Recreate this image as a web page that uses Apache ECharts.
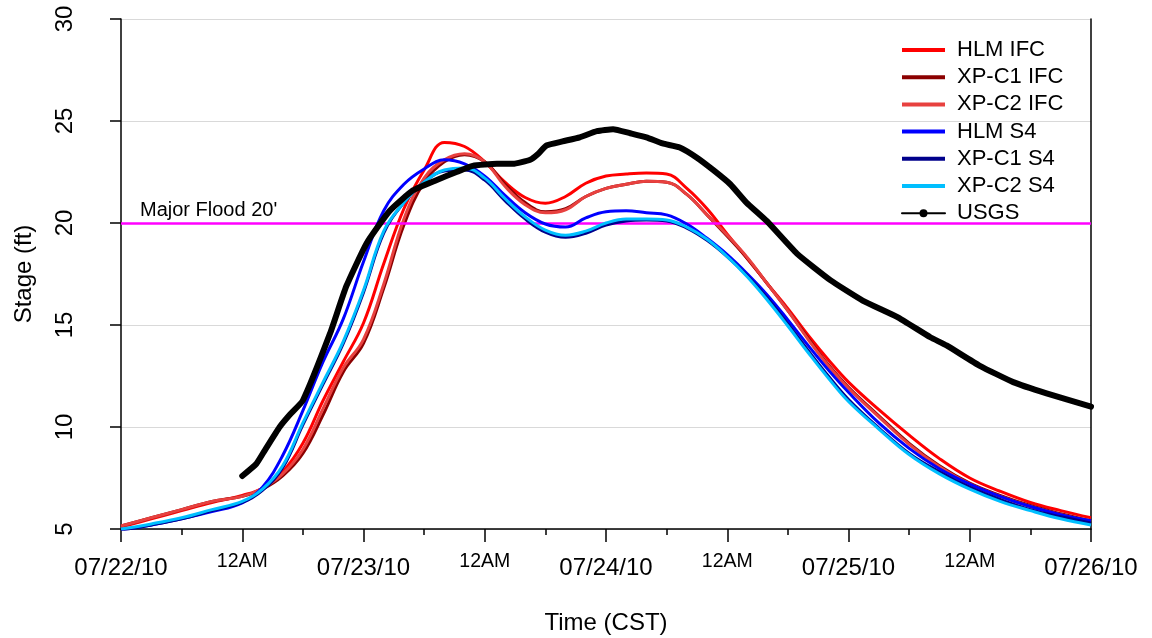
<!DOCTYPE html>
<html><head><meta charset="utf-8">
<script src="https://cdn.jsdelivr.net/npm/echarts@6/dist/echarts.min.js"></script>
<style>html,body{margin:0;padding:0;background:#fff}#c{width:1152px;height:638px}</style>
</head><body><div id="c"></div>
<script>
// ---- data (hours after 07/22/10 00:00 CST, stage in ft) ----
const X_TICK_LABELS = ['07/22/10','12AM','07/23/10','12AM','07/24/10','12AM','07/25/10','12AM','07/26/10'];
const SERIES_NAMES = ['HLM IFC','XP-C1 IFC','XP-C2 IFC','HLM S4','XP-C1 S4','XP-C2 S4','USGS'];
const MODEL_HOURS = [0,3,6,9,12,14,16,18,20,22,24,26,28,30,32,34,36,38,40,42,44,46,48,50,52,54,56,58,60,62,64,66,68,70,72,75,78,81,84,87,90,93,96];
const HLM_IFC   = [5.1,5.5,5.9,6.3,6.65,7.0,7.8,9.2,11.3,13.2,15.1,18.0,20.7,22.6,23.95,23.75,23.0,22.0,21.25,20.97,21.3,21.95,22.3,22.4,22.45,22.4,21.7,20.7,19.45,18.25,17.0,15.8,14.5,13.3,12.2,10.85,9.6,8.45,7.5,6.85,6.3,5.9,5.55];
const XPC1_IFC  = [5.15,5.55,5.95,6.35,6.6,6.95,7.6,8.7,10.6,12.7,14.1,16.8,19.9,22.0,23.0,23.35,23.0,21.9,21.0,20.55,20.7,21.3,21.7,21.9,22.05,22.0,21.4,20.4,19.35,18.25,17.0,15.7,14.35,13.05,11.95,10.55,9.2,8.1,7.25,6.65,6.15,5.75,5.4];
const XPC2_IFC  = [5.15,5.55,5.95,6.35,6.6,7.0,7.7,8.9,10.9,12.9,14.3,17.0,20.2,22.2,23.1,23.4,23.0,21.8,20.9,20.5,20.65,21.3,21.7,21.9,22.05,22.0,21.4,20.4,19.4,18.3,17.0,15.7,14.3,13.0,11.9,10.5,9.15,8.05,7.2,6.6,6.1,5.7,5.35];
const HLM_S4    = [4.95,5.2,5.5,5.85,6.28,7.05,8.6,10.8,13.2,15.3,18.1,20.6,21.9,22.65,23.1,22.9,22.3,21.35,20.5,19.95,19.8,20.25,20.55,20.6,20.5,20.4,19.95,19.25,18.45,17.5,16.45,15.25,14.0,12.8,11.7,10.2,8.95,7.95,7.2,6.6,6.1,5.7,5.4];
const XPC1_S4   = [4.95,5.2,5.5,5.9,6.3,6.9,8.0,10.1,12.1,14.1,16.6,19.5,21.0,22.0,22.55,22.6,22.1,21.1,20.2,19.55,19.3,19.5,19.9,20.1,20.15,20.1,19.75,19.15,18.35,17.4,16.3,15.05,13.75,12.5,11.35,9.95,8.7,7.8,7.05,6.45,5.95,5.6,5.3];
const XPC2_S4   = [5.0,5.25,5.55,5.95,6.35,6.95,8.1,10.2,12.2,14.2,16.7,19.6,21.0,22.0,22.6,22.7,22.2,21.2,20.3,19.65,19.4,19.6,20.0,20.2,20.2,20.15,19.8,19.2,18.35,17.35,16.2,14.95,13.65,12.4,11.25,9.9,8.65,7.7,6.95,6.35,5.9,5.5,5.2];
const USGS_HOURS = [12,13.4,14.25,15.7,16.7,18.0,20.7,22.3,24.3,26.6,28.9,31.2,33.2,34.8,37.2,38.8,40.5,41.3,42.1,43.7,45.4,47.1,48.7,50.4,52.0,53.6,55.3,57.0,58.6,60.3,61.9,63.9,66.9,70.2,73.4,76.8,80.1,81.7,85.0,88.3,91.6,96];
const USGS_STAGE = [7.6,8.2,8.87,10.0,10.6,11.3,14.6,16.9,19.0,20.6,21.6,22.1,22.5,22.8,22.9,22.9,23.1,23.4,23.8,24.0,24.2,24.5,24.6,24.4,24.2,23.9,23.7,23.2,22.6,21.9,21.0,20.1,18.5,17.2,16.2,15.4,14.4,14.0,13.0,12.2,11.65,11.0];
const FLOOD_STAGE = 20;
const FLOOD_LABEL = "Major Flood 20'";

const FONT = "'Liberation Sans', Arial, sans-serif";
const COLORS = ['#ff0000','#8b0000','#e8413f','#0000ff','#00008b','#00bfff','#000000'];
const MODEL_VALUES = [HLM_IFC, XPC1_IFC, XPC2_IFC, HLM_S4, XPC1_S4, XPC2_S4];

function pairs(xs, ys){ return xs.map((x,i)=>[x, ys[i]]); }

const chart = echarts.init(document.getElementById('c'), null, {renderer:'canvas'});

const series = [{
  name:'flood', type:'line', data:[], silent:true,
  markLine:{
    silent:true, symbol:'none', animation:false,
    lineStyle:{color:'#ff00ff', width:2.5, type:'solid'},
    label:{show:true, position:'insideStartTop', formatter:FLOOD_LABEL, color:'#000', fontSize:20, fontFamily:FONT, distance:[19,3]},
    data:[{yAxis:FLOOD_STAGE}]
  }
}];
MODEL_VALUES.forEach((vals, i)=>{
  series.push({
    name:SERIES_NAMES[i], type:'line', data:pairs(MODEL_HOURS, vals),
    smooth:0.4, symbol:'none', color:COLORS[i],
    lineStyle:{width:3, color:COLORS[i]}, z:2+i
  });
});
series.push({
  name:'USGS', type:'line', data:pairs(USGS_HOURS, USGS_STAGE),
  smooth:0.15, symbol:'circle', showSymbol:false, symbolSize:6, color:'#000',
  itemStyle:{color:'#000'}, lineStyle:{width:6, color:'#000', cap:'round', join:'round'}, z:10
});

const legendData = SERIES_NAMES.map((n,i)=> i<6 ? {name:n, itemStyle:{opacity:0}} : {name:n, lineStyle:{width:2}});

chart.setOption({
  animation:false,
  backgroundColor:'#fff',
  textStyle:{fontFamily:FONT},
  grid:{left:121, right:61, top:19, bottom:109, outerBoundsMode:'none', containLabel:false},
  legend:{
    data:legendData, orient:'vertical', left:895, top:34,
    itemWidth:43, itemHeight:10, itemGap:5.2,
    lineStyle:{width:4},
    textStyle:{fontSize:22, color:'#000', fontFamily:FONT, padding:[0,0,0,7]}
  },
  xAxis:{
    type:'value', min:0, max:96, interval:12,
    axisLine:{show:true, onZero:false, lineStyle:{color:'#000', width:1.5}},
    axisTick:{show:true, length:13, lineStyle:{color:'#000', width:1.5}},
    minorTick:{show:true, splitNumber:2, length:6, lineStyle:{color:'#000', width:1.5}},
    splitLine:{show:false}, minorSplitLine:{show:false},
    axisLabel:{
      margin:27, color:'#000',
      formatter:function(v){ const i=Math.round(v/12); const t=X_TICK_LABELS[i]; return (i%2===0)?'{d|'+t+'}':'{s|'+t+'}'; },
      rich:{
        d:{fontSize:24, lineHeight:24, color:'#000', fontFamily:FONT},
        s:{fontSize:19.5, lineHeight:11, color:'#000', fontFamily:FONT}
      }
    },
    name:'Time (CST)', nameLocation:'middle', nameGap:82,
    nameTextStyle:{fontSize:24, color:'#000', fontFamily:FONT}
  },
  yAxis:[{
    type:'value', min:5, max:30, interval:5,
    axisLine:{show:true, lineStyle:{color:'#000', width:1.5}},
    axisTick:{show:true, length:11, lineStyle:{color:'#000', width:1.5}},
    splitLine:{show:true, lineStyle:{color:'#d9d9d9', width:1}},
    axisLabel:{rotate:90, margin:44, fontSize:24, color:'#000', fontFamily:FONT},
    name:'Stage (ft)', nameLocation:'middle', nameGap:85,
    nameTextStyle:{fontSize:24, color:'#000', fontFamily:FONT}
  },{
    type:'value', min:5, max:30, interval:5, position:'right',
    axisLine:{show:true, lineStyle:{color:'#000', width:1.5}},
    axisTick:{show:false}, axisLabel:{show:false}, splitLine:{show:false}
  }],
  series:series
});
</script>
</body></html>
